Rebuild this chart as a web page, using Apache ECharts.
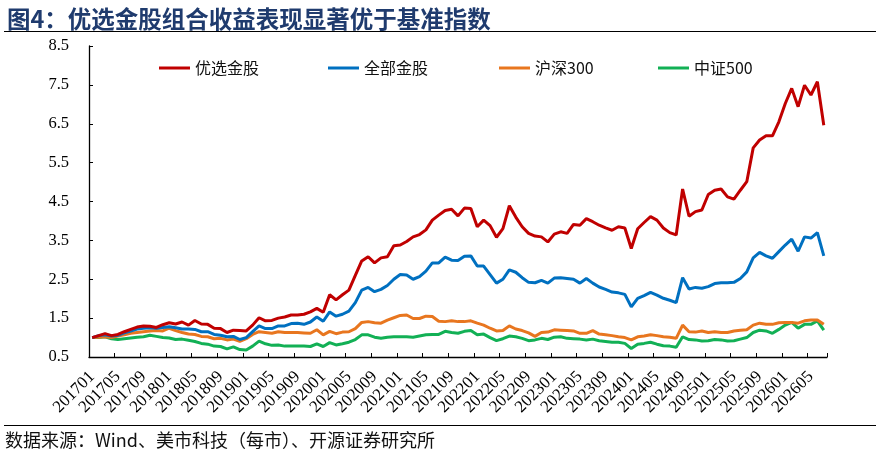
<!DOCTYPE html>
<html>
<head>
<meta charset="utf-8">
<script src="https://cdn.jsdelivr.net/npm/echarts@6/dist/echarts.min.js"></script>
<style>
html,body{margin:0;padding:0;background:#fff;}
#chart{width:880px;height:462px;}
</style>
</head>
<body>
<div id="chart"></div>
<script>
// Month categories 201701 .. 202607
const startYear = 2017, endYear = 2026, endMonth = 7;
const categories = [];
for (let y = startYear; y <= endYear; y++) {
  for (let m = 1; m <= 12; m++) {
    if (y === endYear && m > endMonth) break;
    categories.push(String(y) + (m < 10 ? '0' + m : String(m)));
  }
}

const yTicks = [0.5, 1.5, 2.5, 3.5, 4.5, 5.5, 6.5, 7.5, 8.5];

const seriesNames = ['优选金股', '全部金股', '沪深300', '中证500'];

const youxuan = [
1.0, 1.05, 1.1, 1.05, 1.08, 1.15, 1.21, 1.27, 1.3, 1.29,
1.26, 1.33, 1.38, 1.35, 1.4, 1.32, 1.44, 1.35, 1.34, 1.24,
1.23, 1.13, 1.19, 1.18, 1.17, 1.32, 1.51, 1.43, 1.44, 1.5,
1.53, 1.58, 1.58, 1.6, 1.66, 1.75, 1.65, 2.1, 1.97, 2.1,
2.22, 2.6, 2.97, 3.08, 2.92, 3.05, 3.08, 3.36, 3.38, 3.47,
3.59, 3.65, 3.77, 4.02, 4.15, 4.27, 4.3, 4.13, 4.33, 4.32,
3.85, 4.02, 3.88, 3.58, 3.8, 4.39, 4.1, 3.85, 3.68, 3.61,
3.59, 3.46, 3.66, 3.72, 3.68, 3.91, 3.89, 4.06, 3.98, 3.89,
3.82, 3.76, 3.85, 3.82, 3.29, 3.8, 3.96, 4.11, 4.02, 3.82,
3.7, 3.64, 4.82, 4.12, 4.24, 4.28, 4.68, 4.79, 4.82, 4.62,
4.56, 4.79, 5.01, 5.88, 6.08, 6.19, 6.19, 6.55, 7.02, 7.41,
6.94, 7.49, 7.24, 7.58, 6.46
];

const quanbu = [
1.0, 1.05, 1.07, 1.04, 1.06, 1.12, 1.17, 1.22, 1.24, 1.25,
1.24, 1.26, 1.28, 1.25, 1.22, 1.22, 1.21, 1.15, 1.15, 1.08,
1.06, 1.02, 1.03, 0.95, 1.0, 1.15, 1.3, 1.23, 1.23, 1.3,
1.3, 1.36, 1.37, 1.34, 1.4, 1.53, 1.42, 1.66, 1.55, 1.6,
1.68, 1.9, 2.22, 2.29, 2.18, 2.24, 2.34, 2.5, 2.62, 2.61,
2.5, 2.57, 2.71, 2.92, 2.92, 3.07, 2.99, 2.98, 3.09, 3.1,
2.84, 2.84, 2.62, 2.4, 2.5, 2.74, 2.68, 2.54, 2.42, 2.41,
2.47, 2.4, 2.53, 2.54, 2.52, 2.5, 2.4, 2.52, 2.4, 2.3,
2.24, 2.17, 2.15, 2.11, 1.79, 2.01, 2.08, 2.16, 2.09, 2.01,
1.96, 1.9, 2.54, 2.25, 2.29, 2.27, 2.31, 2.39, 2.41, 2.41,
2.42, 2.52, 2.69, 3.05, 3.19, 3.1, 3.04, 3.21, 3.38, 3.53,
3.22, 3.59, 3.56, 3.7, 3.1
];

const hs300 = [
1.0, 1.01, 1.02, 1.0, 1.04, 1.07, 1.11, 1.13, 1.15, 1.17,
1.18, 1.17, 1.24, 1.18, 1.13, 1.09, 1.08, 1.03, 1.02, 0.97,
0.98, 0.94, 0.96, 0.9, 0.97, 1.08, 1.15, 1.13, 1.11, 1.15,
1.13, 1.13, 1.13, 1.12, 1.11, 1.2, 1.07, 1.16, 1.1, 1.14,
1.15, 1.23, 1.39, 1.41, 1.38, 1.37, 1.45, 1.51, 1.57, 1.58,
1.49, 1.49, 1.55, 1.54, 1.42, 1.41, 1.43, 1.41, 1.41, 1.43,
1.37, 1.32, 1.24, 1.17, 1.18, 1.3, 1.22, 1.18, 1.12, 1.03,
1.13, 1.14, 1.2, 1.19, 1.18, 1.17, 1.11, 1.11, 1.18, 1.09,
1.07, 1.05, 1.02, 1.0, 0.94, 1.02, 1.04, 1.07, 1.05, 1.02,
1.01, 0.98, 1.32, 1.15, 1.14, 1.17, 1.13, 1.15, 1.13, 1.13,
1.17, 1.19, 1.2, 1.32, 1.37, 1.34, 1.34, 1.38, 1.39, 1.39,
1.37, 1.43, 1.45, 1.45, 1.34
];

const zz500 = [
1.0, 1.0, 1.02, 0.97, 0.95, 0.97, 0.99, 1.01, 1.02, 1.06,
1.03, 1.0, 0.99, 0.95, 0.96, 0.93, 0.9, 0.85, 0.83, 0.78,
0.77, 0.71, 0.76, 0.69, 0.68, 0.78, 0.91, 0.84, 0.8, 0.81,
0.78, 0.78, 0.78, 0.78, 0.77, 0.84, 0.77, 0.87, 0.81, 0.84,
0.88, 0.95, 1.07, 1.07, 1.01, 0.98, 1.01, 1.02, 1.02, 1.02,
1.01, 1.04, 1.07, 1.08, 1.08, 1.16, 1.13, 1.11, 1.16, 1.18,
1.07, 1.09, 1.0, 0.92, 0.97, 1.04, 1.02, 0.98, 0.92, 0.94,
0.98, 0.95, 1.01, 1.02, 0.98, 0.97, 0.96, 0.94, 0.96, 0.92,
0.9, 0.88, 0.88, 0.85, 0.72, 0.83, 0.85, 0.88, 0.83, 0.79,
0.78, 0.75, 1.02, 0.95, 0.94, 0.91, 0.92, 0.95, 0.94, 0.91,
0.92, 0.96, 1.0, 1.13, 1.19, 1.17, 1.11, 1.21, 1.32, 1.39,
1.24, 1.34, 1.34, 1.43, 1.19
];

const colors = {
  '优选金股': '#C00000',
  '全部金股': '#0070C0',
  '沪深300': '#E8761F',
  '中证500': '#12B055'
};
const dataByName = {
  '优选金股': youxuan,
  '全部金股': quanbu,
  '沪深300': hs300,
  '中证500': zz500
};

const chart = echarts.init(document.getElementById('chart'), null, {renderer: 'canvas'});

const legendLefts = [154, 323, 494, 653];
const legendFont = {fontFamily: '"Noto Sans CJK SC", sans-serif', fontSize: 16, color: '#111'};

const drawOrder = ['中证500', '沪深300', '全部金股', '优选金股'];

const option = {
  animation: false,
  backgroundColor: '#fff',
  title: {
    text: '图4：优选金股组合收益表现显著优于基准指数',
    left: 2,
    top: 2,
    textStyle: {
      fontFamily: '"Noto Sans CJK SC", sans-serif',
      fontSize: 23.5,
      fontWeight: 'bold',
      color: '#1F3B6E'
    }
  },
  graphic: [
    {type: 'line', shape: {x1: 4, y1: 31.5, x2: 876, y2: 31.5}, style: {stroke: '#000', lineWidth: 1.2}},
    {type: 'line', shape: {x1: 4, y1: 425.5, x2: 876, y2: 425.5}, style: {stroke: '#000', lineWidth: 1.2}},
    {type: 'text', left: 5, top: 431, style: {
      text: '数据来源：Wind、美市科技（每市）、开源证券研究所',
      font: '18px "Noto Sans CJK SC", sans-serif',
      fill: '#111'
    }}
  ],
  legend: seriesNames.map((n, k) => ({
    data: [n],
    left: legendLefts[k],
    top: 55,
    icon: 'rect',
    itemWidth: 31,
    itemHeight: 3,
    itemGap: 6,
    textStyle: legendFont
  })),
  grid: {left: 89, right: 53, top: 46, bottom: 105},
  xAxis: {
    type: 'category',
    data: categories,
    boundaryGap: true,
    axisLine: {lineStyle: {color: '#000', width: 1.3}},
    axisTick: {show: true, inside: true, interval: 3, length: 4, lineStyle: {color: '#000', width: 1}},
    axisLabel: {
      interval: 3,
      rotate: 45,
      margin: 17,
      fontFamily: '"Liberation Serif", serif',
      fontSize: 17,
      color: '#000'
    },
    splitLine: {show: false}
  },
  yAxis: {
    type: 'value',
    min: 0.5,
    max: 8.5,
    interval: 0.5,
    axisLine: {show: true, lineStyle: {color: '#000', width: 1.3}},
    axisTick: {show: true, inside: true, length: 4, customValues: yTicks, lineStyle: {color: '#000', width: 1}},
    axisLabel: {
      customValues: yTicks,
      margin: 20,
      fontFamily: '"Liberation Serif", serif',
      fontSize: 16.5,
      color: '#000',
      formatter: v => v.toFixed(1)
    },
    splitLine: {show: false}
  },
  series: drawOrder.map(n => ({
    name: n,
    type: 'line',
    data: dataByName[n],
    symbol: 'none',
    smooth: false,
    lineStyle: {color: colors[n], width: 3},
    itemStyle: {color: colors[n]}
  }))
};

chart.setOption(option);
</script>
</body>
</html>
